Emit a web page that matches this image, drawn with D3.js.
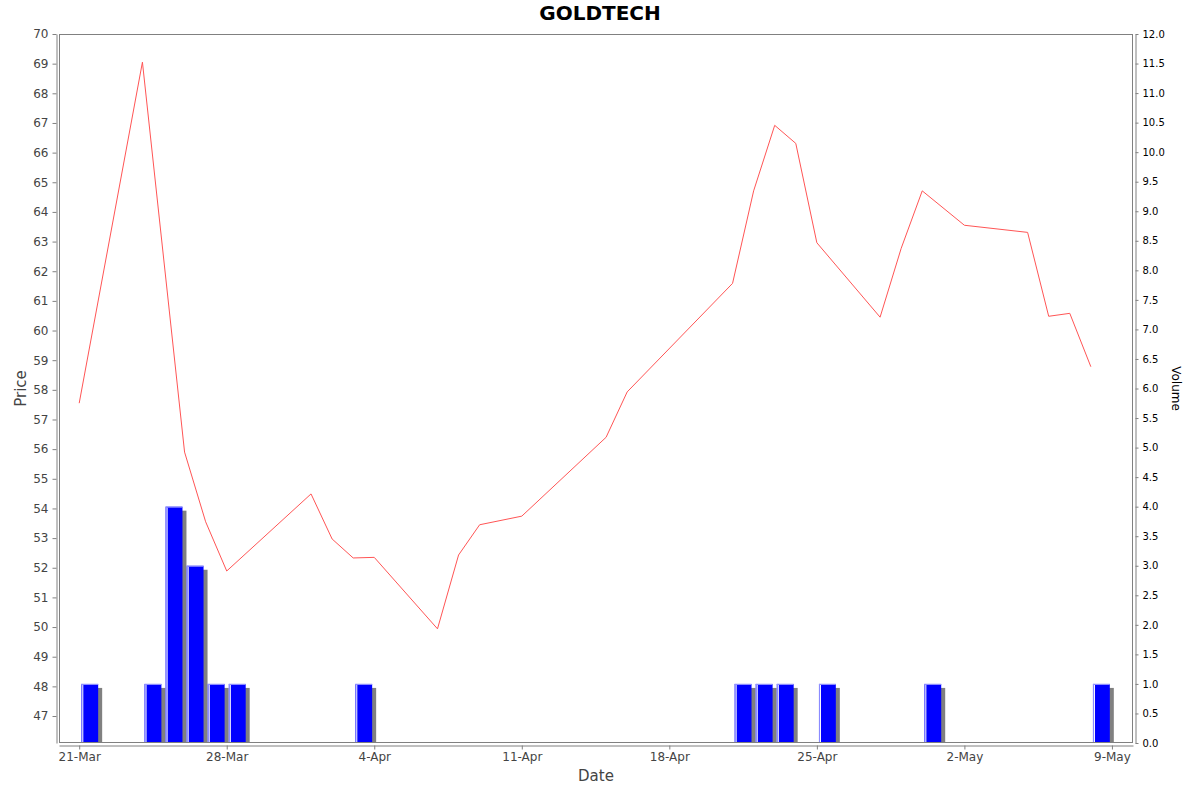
<!DOCTYPE html>
<html>
<head>
<meta charset="utf-8">
<script src="https://cdn.jsdelivr.net/npm/d3@7"></script>
<style>
  body { margin: 0; background: #fff; }
  svg { display: block; font-family: "DejaVu Sans", sans-serif; }
</style>
</head>
<body>
<div id="chart"></div>
<script>
// closing price per trading day
var priceDates = ["2025-03-21","2025-03-24","2025-03-26","2025-03-27","2025-03-28",
  "2025-04-01","2025-04-02","2025-04-03","2025-04-04","2025-04-07","2025-04-08",
  "2025-04-09","2025-04-11","2025-04-15","2025-04-16","2025-04-21","2025-04-22",
  "2025-04-23","2025-04-24","2025-04-25","2025-04-28","2025-04-29","2025-04-30",
  "2025-05-02","2025-05-05","2025-05-06","2025-05-07","2025-05-08"];
var prices = [57.55, 69.05, 55.90, 53.55, 51.89,
  54.49, 52.97, 52.33, 52.35, 49.94, 52.43,
  53.45, 53.74, 56.40, 57.93, 61.59, 64.71,
  66.92, 66.31, 62.96, 60.45, 62.77, 64.71,
  63.55, 63.31, 60.48, 60.58, 58.78];

// traded volume (days with zero volume left out)
var volumeDates = ["2025-03-21","2025-03-24","2025-03-25","2025-03-26","2025-03-27",
  "2025-03-28","2025-04-03","2025-04-21","2025-04-22","2025-04-23","2025-04-25",
  "2025-04-30","2025-05-08"];
var volumes = [1, 1, 4, 3, 1, 1, 1, 1, 1, 1, 1, 1, 1];

var tickDates = ["2025-03-21","2025-03-28","2025-04-04","2025-04-11",
  "2025-04-18","2025-04-25","2025-05-02","2025-05-09"];

var title = "GOLDTECH";

var width = 1200, height = 792;
var margin = {top: 34, right: 67, bottom: 49, left: 59};
var chartW = width - margin.left - margin.right,
    chartH = height - margin.top - margin.bottom;

var parse = d3.utcParse("%Y-%m-%d");
var priceData = priceDates.map(function(d, i) { return {date: parse(d), value: prices[i]}; });
var volData = volumeDates.map(function(d, i) { return {date: parse(d), value: volumes[i]}; });

var x = d3.scaleUtc()
    .domain([new Date(Date.UTC(2025, 2, 20, 1)), new Date(Date.UTC(2025, 4, 10, 0))])
    .range([0, chartW]);
var yPrice = d3.scaleLinear().domain([46.09, 70]).range([chartH, 0]);
var yVol = d3.scaleLinear().domain([0, 12]).range([chartH, 0]);

var svg = d3.select("#chart").append("svg")
    .attr("width", width)
    .attr("height", height);

svg.append("text")
    .attr("x", width / 2)
    .attr("y", 20)
    .attr("text-anchor", "middle")
    .style("font-size", "20px")
    .style("font-weight", "bold")
    .text(title);

var g = svg.append("g")
    .attr("transform", "translate(" + margin.left + "," + margin.top + ")");

g.append("clipPath").attr("id", "plotclip")
  .append("rect").attr("width", chartW).attr("height", chartH);

var plot = g.append("g").attr("clip-path", "url(#plotclip)");

function barX(d) {
  var x0 = x(d.date), x1 = x(d3.utcDay.offset(d.date, 1));
  return x0 + (x1 - x0) * 0.1;
}
function barW(d) {
  var x0 = x(d.date), x1 = x(d3.utcDay.offset(d.date, 1));
  return (x1 - x0) * 0.8;
}

// shadows
plot.selectAll(".shadow")
    .data(volData)
  .enter().append("rect")
    .attr("class", "shadow")
    .attr("x", function(d) { return barX(d) + 4; })
    .attr("y", function(d) { return yVol(d.value) + 4; })
    .attr("width", function(d) { return barW(d); })
    .attr("height", function(d) { return chartH - yVol(d.value); })
    .style("fill", "#808080");

plot.selectAll(".bar")
    .data(volData)
  .enter().append("rect")
    .attr("class", "bar")
    .attr("x", barX)
    .attr("y", function(d) { return yVol(d.value); })
    .attr("width", barW)
    .attr("height", function(d) { return chartH - yVol(d.value); })
    .style("fill", "#0000ff");

// highlight edges of the bars
plot.selectAll(".hl-left")
    .data(volData)
  .enter().append("rect")
    .attr("x", barX)
    .attr("y", function(d) { return yVol(d.value); })
    .attr("width", 1)
    .attr("height", function(d) { return chartH - yVol(d.value); })
    .style("fill", "#8c8cff");
plot.selectAll(".hl-white")
    .data(volData)
  .enter().append("rect")
    .attr("x", function(d) { return barX(d) + 1; })
    .attr("y", function(d) { return yVol(d.value) + 1; })
    .attr("width", 1)
    .attr("height", function(d) { return chartH - yVol(d.value) - 1; })
    .style("fill", "#ffffff");
plot.selectAll(".hl-top")
    .data(volData)
  .enter().append("rect")
    .attr("x", barX)
    .attr("y", function(d) { return yVol(d.value); })
    .attr("width", barW)
    .attr("height", 1)
    .style("fill", "#9a9aff");

var line = d3.line()
    .x(function(d) { return x(d.date); })
    .y(function(d) { return yPrice(d.value); });

plot.append("path")
    .datum(priceData)
    .attr("d", line)
    .style("fill", "none")
    .style("stroke", "#ff5555")
    .style("stroke-width", 1);

// plot border
g.append("rect")
    .attr("x", 0.5).attr("y", 0.5)
    .attr("width", chartW - 1).attr("height", chartH - 1)
    .style("fill", "none")
    .style("stroke", "#808080");

// axes
var leftAxis = g.append("g")
    .attr("transform", "translate(-2.5,0)")
    .call(d3.axisLeft(yPrice)
      .tickValues(d3.range(47, 71))
      .tickFormat(d3.format("d"))
      .tickSize(4).tickSizeOuter(0).tickPadding(4));

var rightAxis = g.append("g")
    .attr("transform", "translate(" + (chartW + 2.5) + ",0)")
    .call(d3.axisRight(yVol)
      .tickValues(d3.range(0, 12.01, 0.5))
      .tickFormat(d3.format(".1f"))
      .tickSize(3).tickSizeOuter(0).tickPadding(4));

var bottomAxis = g.append("g")
    .attr("transform", "translate(0," + (chartH + 2.5) + ")")
    .call(d3.axisBottom(x)
      .tickValues(tickDates.map(parse))
      .tickFormat(d3.utcFormat("%-d-%b"))
      .tickSize(4).tickSizeOuter(0).tickPadding(3));

[leftAxis, rightAxis, bottomAxis].forEach(function(a) {
  a.select(".domain").style("stroke", "#808080");
  a.selectAll(".tick line").style("stroke", "#808080");
  a.selectAll("text").style("font-family", "DejaVu Sans, sans-serif");
});
leftAxis.selectAll("text").style("font-size", "12px").style("fill", "#444");
bottomAxis.selectAll("text").style("font-size", "12px").style("fill", "#444");
rightAxis.selectAll("text").style("font-size", "10px").style("fill", "#000");

svg.append("text")
    .attr("transform", "translate(26," + (margin.top + chartH / 2) + ") rotate(-90)")
    .attr("text-anchor", "middle")
    .style("font-size", "15px")
    .style("fill", "#444")
    .text("Price");

svg.append("text")
    .attr("x", margin.left + chartW / 2)
    .attr("y", 781)
    .attr("text-anchor", "middle")
    .style("font-size", "15px")
    .style("fill", "#444")
    .text("Date");

svg.append("text")
    .attr("transform", "translate(1172," + (margin.top + chartH / 2) + ") rotate(90)")
    .attr("text-anchor", "middle")
    .style("font-size", "12px")
    .style("fill", "#000")
    .text("Volume");
</script>
</body>
</html>
